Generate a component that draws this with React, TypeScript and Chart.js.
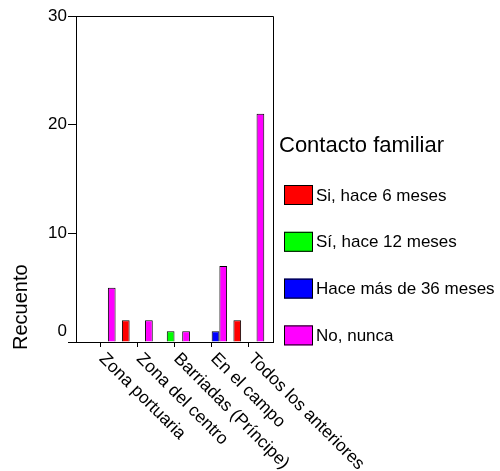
import React, { useEffect, useRef } from "react";
import { Chart, registerables } from "chart.js";

Chart.register(...registerables);

const CATEGORIES = [
  "Zona portuaria",
  "Zona del centro",
  "Barriadas (Príncipe)",
  "En el campo",
  "Todos los anteriores",
];
const SERIES_NAMES = [
  "Si, hace 6 meses",
  "Sí, hace 12 meses",
  "Hace más de 36 meses",
  "No, nunca",
];
const SI_6_MESES = [0, 2, 0, 0, 2];
const SI_12_MESES = [0, 0, 1, 0, 0];
const MAS_36_MESES = [0, 0, 0, 1, 0];
const NO_NUNCA = [5, 2, 1, 7, 21];
const Y_TICKS = [0, 10, 20, 30];
const SERIES_COLORS = ["#FF0000", "#00FF00", "#0000FF", "#FF00FF"];
const LEGEND_TITLE = "Contacto familiar";
const Y_TITLE = "Recuento";

const FONT = "'Liberation Sans', Arial, sans-serif";
const X_MIN = -0.65;
const X_MAX = 4.65;

// Frame, rotated category labels, y title and legend
const decorPlugin = {
  id: "decor",
  afterDraw(chart: any) {
    const { ctx, chartArea } = chart;
    const xs = chart.scales.x;
    ctx.save();

    // top and right edges of the plot frame
    ctx.strokeStyle = "#000";
    ctx.lineWidth = 1;
    ctx.beginPath();
    ctx.moveTo(chartArea.left, chartArea.top + 0.5);
    ctx.lineTo(chartArea.right + 0.5, chartArea.top + 0.5);
    ctx.lineTo(chartArea.right + 0.5, chartArea.bottom);
    ctx.stroke();

    // category labels, slanted downwards
    ctx.fillStyle = "#000";
    ctx.font = `17.5px ${FONT}`;
    ctx.textAlign = "left";
    ctx.textBaseline = "top";
    CATEGORIES.forEach((label, i) => {
      const px = xs.getPixelForValue(i);
      ctx.save();
      ctx.translate(px + 8, chartArea.bottom + 8);
      ctx.rotate(Math.PI / 4);
      ctx.fillText(label, 0, 0);
      ctx.restore();
    });

    // y axis title
    ctx.save();
    ctx.font = `20px ${FONT}`;
    ctx.textBaseline = "alphabetic";
    ctx.translate(27, chartArea.bottom + 8);
    ctx.rotate(-Math.PI / 2);
    ctx.fillText(Y_TITLE, 0, 0);
    ctx.restore();

    // legend
    ctx.font = `22px ${FONT}`;
    ctx.textBaseline = "middle";
    ctx.fillText(LEGEND_TITLE, 279, 146);
    ctx.font = `17px ${FONT}`;
    chart.data.datasets.forEach((ds: any, i: number) => {
      const cy = 195 + i * 46.8;
      ctx.fillStyle = ds.backgroundColor;
      ctx.fillRect(284, cy - 10, 29, 20);
      ctx.strokeStyle = "#000";
      ctx.strokeRect(284.5, cy - 9.5, 28, 19);
      ctx.fillStyle = "#000";
      ctx.fillText(ds.label, 316, cy + 1);
    });

    ctx.restore();
  },
};

export default function App() {
  const canvasRef = useRef<HTMLCanvasElement | null>(null);

  useEffect(() => {
    const canvas = canvasRef.current;
    if (!canvas) return;
    const seriesValues = [SI_6_MESES, SI_12_MESES, MAS_36_MESES, NO_NUNCA];
    const chart = new Chart(canvas, {
      type: "bar",
      data: {
        datasets: seriesValues.map((vals, s) => ({
          label: SERIES_NAMES[s],
          data: vals.map((v, i) => ({ x: i, y: v === 0 ? null : v })),
          backgroundColor: SERIES_COLORS[s],
          borderColor: "#000",
          borderWidth: 1,
          categoryPercentage: 0.83,
          barPercentage: 1,
        })),
      },
      options: {
        responsive: false,
        animation: false,
        layout: { padding: { top: 16, right: 227, left: 0, bottom: 0 } },
        plugins: { legend: { display: false }, tooltip: { enabled: false } },
        scales: {
          x: {
            type: "linear",
            bounds: "data",
            offset: false,
            min: X_MIN,
            max: X_MAX,
            grid: {
              offset: false,
              drawOnChartArea: false,
              drawTicks: true,
              tickLength: 5,
              color: "#000",
            },
            border: { color: "#000", width: 1 },
            ticks: { display: false },
            afterBuildTicks: (s: any) => {
              s.ticks = CATEGORIES.map((_, i) => ({ value: i }));
              s.min = X_MIN;
              s.max = X_MAX;
            },
            afterFit: (s: any) => {
              s.height = 129;
            },
          },
          y: {
            min: 0,
            max: 30,
            grid: {
              drawOnChartArea: false,
              drawTicks: true,
              tickLength: 8,
              color: "#000",
            },
            border: { color: "#000", width: 1 },
            ticks: {
              color: "#000",
              padding: 1,
              font: { family: FONT, size: 17 },
              // the zero label sits just above the baseline
              callback: (v: any) => (v === 0 ? ["0", ""] : String(v)),
            },
            afterBuildTicks: (s: any) => {
              s.ticks = Y_TICKS.map((v) => ({ value: v }));
            },
            afterFit: (s: any) => {
              s.width = 76;
            },
          },
        },
      },
      plugins: [decorPlugin],
    } as any);
    return () => chart.destroy();
  }, []);

  return (
    <div style={{ position: "absolute", left: 0, top: 0, width: 500, height: 471 }}>
      <canvas ref={canvasRef} width={500} height={471} />
    </div>
  );
}
